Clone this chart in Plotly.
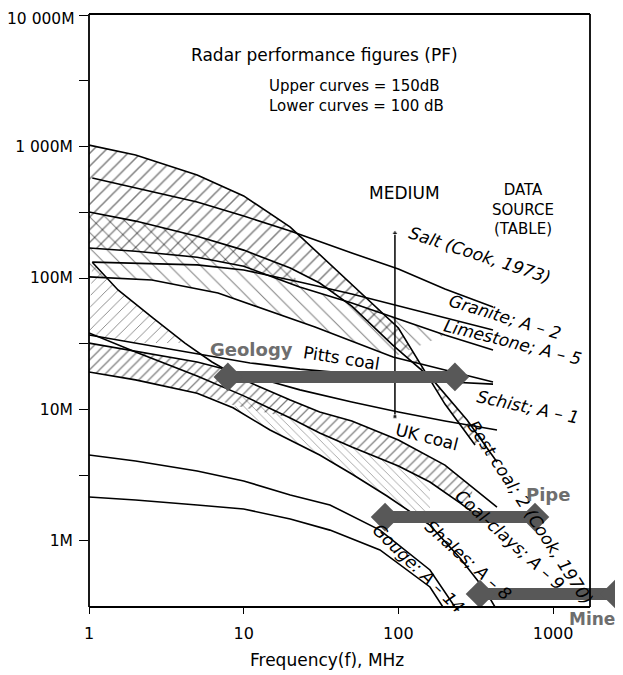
import plotly.graph_objects as go

# ---------------- data (frequency MHz, range M) ----------------
best_upper_f = [1, 2, 5, 10, 20, 50, 100, 200, 313]
best_upper_r = [1026, 861, 607, 421, 244, 88.5, 41.7, 11.0, 5.37]
best_lower_f = [1, 2, 5, 10, 20, 31, 50, 92, 167, 278, 434]
best_lower_r = [318, 271, 208, 163, 119, 91.6, 61.2, 30.9, 16.8, 8.32, 3.99]
salt_f = [1.05, 2, 5, 10, 20, 50, 100, 200, 409]
salt_r = [576, 483, 378, 296, 228, 155, 117, 82.5, 60.2]
granite_f = [1.05, 2, 5, 10, 23, 50, 100, 200, 409]
granite_r = [132, 130, 126, 115, 93.3, 75.5, 61.2, 49.6, 40.2]
limestone_f = [1, 2, 5, 10, 23, 50, 100, 200, 409]
limestone_r = [169, 160, 144, 123, 85.5, 64.6, 48.8, 36.9, 28.3]
pitts_upper_f = [1, 2.55, 6.82, 18.5, 28.9, 92.3, 409]
pitts_upper_r = [102, 96.6, 76.9, 50.5, 42.4, 25.1, 16.2]
pitts_lower_f = [1, 2, 5, 11, 23.1, 50, 100, 216, 409]
pitts_lower_r = [36.9, 32.0, 26.4, 22.6, 20.3, 18.6, 17.4, 16.2, 15.6]
schist_f = [1, 2, 5, 10, 23.1, 50, 100, 200, 434]
schist_r = [32.0, 27.9, 23.0, 18.6, 14.1, 11.4, 9.57, 8.18, 6.98]
ukcoal_f = [1.05, 1.54, 2.55, 4.17, 6.24, 10, 20, 31, 50, 100, 200, 434]
ukcoal_r = [132, 81.1, 50.5, 32.0, 23.0, 16.8, 11.8, 9.57, 8.18, 5.86, 3.78, 1.81]
coalclay_f = [1, 2, 5, 10, 20, 31, 50, 100, 160, 250, 337]
coalclay_r = [38.2, 27.4, 18.0, 12.7, 8.61, 6.63, 5.19, 3.72, 2.81, 1.95, 1.50]
shales_f = [1, 2, 5, 8.53, 14.8, 31, 50, 84.4, 160, 250, 363, 421]
shales_r = [19.3, 16.8, 13.3, 10.3, 6.98, 4.51, 3.23, 2.20, 1.32, 0.742, 0.424, 0.315]
gouge_upper_f = [1, 2, 5, 10, 20, 36.1, 76, 160, 232]
gouge_upper_r = [4.51, 4.06, 3.41, 2.86, 2.24, 1.88, 1.21, 0.602, 0.315]
gouge_lower_f = [1, 2, 5, 10, 20, 36.1, 76, 160, 194]
gouge_lower_r = [2.16, 2.05, 1.88, 1.75, 1.47, 1.21, 0.855, 0.447, 0.315]
ukband_top_f = [1, 2, 5, 7.57, 10, 20, 31, 50, 100, 200, 300]
ukband_top_r = [32.0, 27.9, 23.0, 20.0, 16.8, 11.8, 9.57, 8.18, 5.86, 3.78, 2.57]
ukband_bot_f = [1, 2, 5, 8.5, 20, 31, 50, 100, 160, 250, 300]
ukband_bot_r = [19.3, 16.8, 13.3, 10.8, 8.61, 6.63, 5.19, 3.72, 2.81, 1.95, 1.66]

medium_f = [95, 95]
medium_r = [8.8, 220]

geology_f = [7.9, 232]
geology_r = [17.7, 17.7]
pipe_f = [82, 764]
pipe_r = [1.52, 1.52]
mine_f = [337, 2513]
mine_r = [0.395, 0.395]

y_tickvals = [1, 3.162, 10, 31.62, 100, 316.2, 1000, 3162, 10000]
y_ticktext = ["1M", "", "10M", "", "100M", "", "1 000M", "", ""]
top_tick_label = "10 000M"   # drawn as an annotation so it is not cut at the page top
x_tickvals = [1, 10, 100, 1000]
x_ticktext = ["1", "10", "100", "1000"]

# ---------------- figure ----------------
OFF = 8                      # page body margin of the html page
W, H = 623 - OFF, 675 - OFF
ML, MR, MT, MB = 89 - OFF, 0, 14 - OFF, 68
PW, PH = W - ML - MR, H - MT - MB


def P(px, py):
    """page pixel -> paper coordinates"""
    return (px - OFF - ML) / PW, (H - MB - (py - OFF)) / PH


fig = go.Figure()


def hatch(xs, ys, shape, size, solidity):
    fig.add_trace(go.Scatter(
        x=xs, y=ys, mode="none", fill="toself", fillcolor="rgba(0,0,0,0)",
        fillpattern=dict(shape=shape, fgcolor="black", bgcolor="rgba(0,0,0,0)",
                         size=size, solidity=solidity),
        hoverinfo="skip"))


# hatched bands
hatch(best_upper_f + best_lower_f[::-1], best_upper_r + best_lower_r[::-1], "/", 9, 0.17)
hatch(best_lower_f[:5] + limestone_f[:5][::-1], best_lower_r[:5] + limestone_r[:5][::-1], "/", 9, 0.15)
hatch(best_lower_f[:5] + limestone_f[4:8] + pitts_upper_f[:6][::-1],
      best_lower_r[:5] + limestone_r[4:8] + pitts_upper_r[:6][::-1], "\\", 11, 0.09)
hatch(ukcoal_f[:4] + pitts_lower_f[:2][::-1], ukcoal_r[:4] + pitts_lower_r[:2][::-1], "/", 8, 0.11)
hatch(ukband_top_f + ukband_bot_f[::-1], ukband_top_r + ukband_bot_r[::-1], "/", 7, 0.18)
hatch(coalclay_f[3:9] + shales_f[3:9][::-1], coalclay_r[3:9] + shales_r[3:9][::-1], "\\", 6, 0.11)

curves = [
    (best_upper_f, best_upper_r), (best_lower_f, best_lower_r), (salt_f, salt_r),
    (granite_f, granite_r), (limestone_f, limestone_r), (pitts_upper_f, pitts_upper_r),
    (pitts_lower_f, pitts_lower_r), (schist_f, schist_r), (ukcoal_f, ukcoal_r),
    (coalclay_f, coalclay_r), (shales_f, shales_r), (gouge_upper_f, gouge_upper_r),
    (gouge_lower_f, gouge_lower_r),
]
for f, r in curves:
    fig.add_trace(go.Scatter(x=f, y=r, mode="lines", line=dict(color="black", width=1.6),
                             hoverinfo="skip"))

# medium arrow
fig.add_trace(go.Scatter(x=medium_f, y=medium_r, mode="lines+markers",
                         line=dict(color="black", width=1.5),
                         marker=dict(symbol=["square", "triangle-up"], size=[4, 6], color="black"),
                         hoverinfo="skip"))

# grey application bars
GREY = "#585858"
for f, r in [(geology_f, geology_r), (pipe_f, pipe_r), (mine_f, mine_r)]:
    fig.add_trace(go.Scatter(x=f, y=r, mode="lines+markers", cliponaxis=False,
                             line=dict(color=GREY, width=12),
                             marker=dict(symbol="diamond", size=22, color=GREY),
                             hoverinfo="skip"))

# frame (box from 1 MHz to ~1730 MHz)
X_RIGHT = (590 - 89) / PW
frame_line = dict(color="black", width=1.8)
shapes = [
    dict(type="line", xref="paper", yref="paper", x0=0, x1=X_RIGHT, y0=1, y1=1, line=frame_line),
    dict(type="line", xref="paper", yref="paper", x0=0, x1=X_RIGHT, y0=0, y1=0, line=frame_line),
    dict(type="line", xref="paper", yref="paper", x0=X_RIGHT, x1=X_RIGHT, y0=0, y1=1, line=frame_line),
    dict(type="line", xref="paper", yref="paper", x0=0, x1=0, y0=0, y1=1, line=frame_line),
]

FONT = "DejaVu Sans"
ann = []


def text(t, px, py, size=17, angle=0, italic=False, anchor="center", color="black", bold=False):
    x, y = P(px, py)
    s = t
    if italic:
        s = "<i>" + s + "</i>"
    if bold:
        s = "<b>" + s + "</b>"
    ann.append(dict(text=s, x=x, y=y, xref="paper", yref="paper", showarrow=False,
                    xanchor=anchor, yanchor="middle", textangle=angle,
                    align=anchor if anchor != "center" else "center",
                    font=dict(family=FONT, size=size, color=color)))


text(top_tick_label, 77, 19, 15.5, anchor="right")
text("Radar performance figures (PF)", 324, 55, 17)
text("Upper curves = 150dB<br>Lower curves = 100 dB", 267, 96, 15, anchor="left")
text("MEDIUM", 404, 193, 17)
text("DATA<br>SOURCE<br>(TABLE)", 523, 210, 15)
text("Salt (Cook, 1973)", 480, 255, 17, angle=18, italic=True)
text("Granite; A – 2", 505, 317, 17, angle=17, italic=True)
text("Limestone; A – 5", 512, 342, 17, angle=14, italic=True)
text("Pitts coal", 341, 358, 17, angle=9)
text("Schist; A – 1", 528, 407, 17, angle=12, italic=True)
text("UK coal", 427, 437, 17, angle=14)
text("Best coal; 2 (Cook, 1970)", 530, 512, 17, angle=57, italic=True)
text("Coal-clays; A – 9", 510, 540, 17, angle=42, italic=True)
text("Shales; A – 8", 468, 560, 17, angle=42, italic=True)
text("Gouge: A – 14", 418, 568, 17, angle=44, italic=True)
text("Geology", 251, 349, 18, color="#6e6e6e", bold=True)
text("Pipe", 548, 494, 18, color="#6e6e6e", bold=True)
text("Mine", 592, 619, 17, color="#6e6e6e", bold=True)
text("Frequency(f), MHz", 327, 660, 17)

fig.update_layout(
    width=W, height=H, margin=dict(l=ML, r=MR, t=MT, b=MB, autoexpand=False),
    paper_bgcolor="white", plot_bgcolor="white", showlegend=False,
    shapes=shapes, annotations=ann,
    xaxis=dict(type="log", range=[0, 3.452], tickvals=x_tickvals, ticktext=x_ticktext,
               ticks="outside", ticklen=6, tickcolor="black", showgrid=False, zeroline=False,
               showline=False, ticklabelstandoff=6, automargin=False, ticklabeloverflow="allow",
               tickfont=dict(family=FONT, size=16, color="black")),
    yaxis=dict(type="log", range=[-0.502, 4.008], tickvals=y_tickvals, ticktext=y_ticktext,
               ticks="outside", ticklen=9, tickcolor="black", showgrid=False, zeroline=False,
               showline=False, ticklabelstandoff=3, automargin=False, ticklabeloverflow="allow",
               tickfont=dict(family=FONT, size=15.5, color="black")),
)

fig.write_html("out.html")
